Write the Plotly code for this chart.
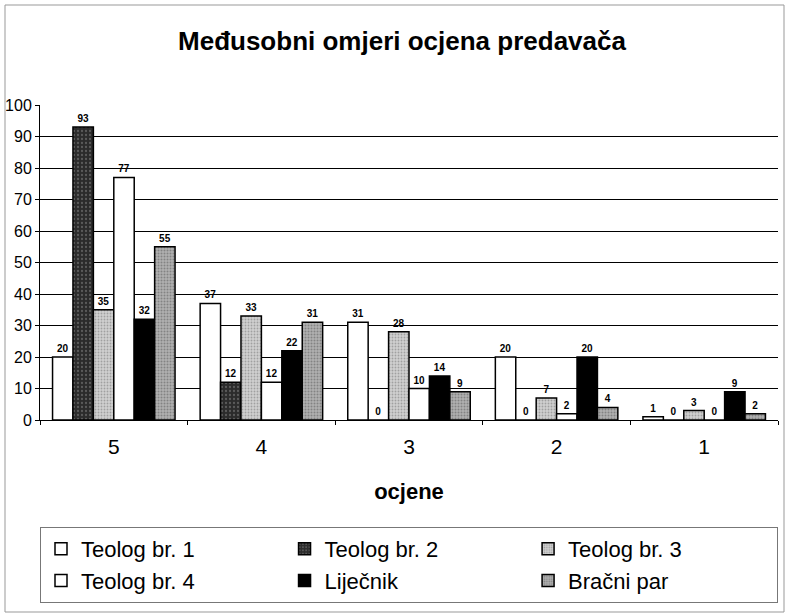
import plotly.graph_objects as go

categories = ["5", "4", "3", "2", "1"]
series_names = ["Teolog br. 1", "Teolog br. 2", "Teolog br. 3", "Teolog br. 4", "Liječnik", "Bračni par"]
teolog1 = [20, 37, 31, 20, 1]
teolog2 = [93, 12, 0, 0, 0]
teolog3 = [35, 33, 28, 7, 3]
teolog4 = [77, 12, 10, 2, 0]
lijecnik = [32, 22, 14, 20, 9]
bracni = [55, 31, 9, 4, 2]
y_ticks = [0, 10, 20, 30, 40, 50, 60, 70, 80, 90, 100]

values = [teolog1, teolog2, teolog3, teolog4, lijecnik, bracni]
styles = [
    dict(color="#ffffff", pattern=None),
    dict(color="#2b2b2b", pattern=dict(shape=".", fgcolor="#8a8a8a", size=4, solidity=0.25)),
    dict(color="#d0d0d0", pattern=dict(shape=".", fgcolor="#6f6f6f", size=3, solidity=0.3)),
    dict(color="#ffffff", pattern=None),
    dict(color="#000000", pattern=None),
    dict(color="#b0b0b0", pattern=dict(shape=".", fgcolor="#555555", size=3, solidity=0.35)),
]

FONT = "Liberation Sans, Arial, sans-serif"
L, R, T, B = 40, 11, 105, 194
W, H = 789, 614
PW, PH = W - L - R, H - T - B

fig = go.Figure()
for name, vals, st in zip(series_names, values, styles):
    marker = dict(color=st["color"], line=dict(color="#000000", width=1.5))
    if st["pattern"]:
        marker["pattern"] = st["pattern"]
    fig.add_trace(go.Bar(
        x=categories, y=vals, name=name, marker=marker,
        text=[str(v) for v in vals], textposition="outside",
        textfont=dict(family=FONT, size=10, color="#000000", weight="bold"),
        cliponaxis=False,
    ))

fig.update_layout(
    width=W, height=H,
    paper_bgcolor="white", plot_bgcolor="white",
    margin=dict(l=L, r=R, t=T, b=B, autoexpand=False),
    barmode="group", bargap=0.17, bargroupgap=0,
    font=dict(family=FONT, color="#000000"),
    title=dict(text="<b>Međusobni omjeri ocjena predavača</b>", x=402 / W, xanchor="center",
               y=1 - 41 / H, yanchor="middle", font=dict(size=26, family=FONT)),
    showlegend=True,
    legend=dict(orientation="h", x=0.0, xanchor="left", y=-(527 - 420) / PH, yanchor="top",
                bordercolor="#777777", borderwidth=1,
                entrywidth=0.33, entrywidthmode="fraction", itemwidth=30,
                font=dict(size=22, family=FONT),
                traceorder="normal"),
    uniformtext=dict(minsize=9, mode="show"),
)
fig.update_xaxes(
    type="category", showline=True, linecolor="#000000", linewidth=1,
    ticks="outside", tickson="boundaries", ticklen=4, tickcolor="#000000",
    ticklabelstandoff=8,
    tickfont=dict(size=21, family=FONT),
    title=dict(text="<b>ocjene</b>", font=dict(size=22, family=FONT), standoff=26),
)
fig.update_yaxes(
    range=[0, 100], tickvals=y_ticks, showline=True, linecolor="#000000", linewidth=1,
    ticks="outside", ticklen=4, tickcolor="#000000",
    showgrid=True, gridcolor="#000000", gridwidth=1,
    tickfont=dict(size=16, family=FONT), zeroline=False,
)
fig.add_shape(type="rect", xref="paper", yref="paper",
              x0=(5 - L) / PW, x1=(784 - L) / PW,
              y0=-(612 - (T + PH)) / PH, y1=1 + (T - 5) / PH,
              line=dict(color="#999999", width=1))

fig.write_html("out.html", config={"displayModeBar": False},
               post_script="document.body.style.margin='0';")
